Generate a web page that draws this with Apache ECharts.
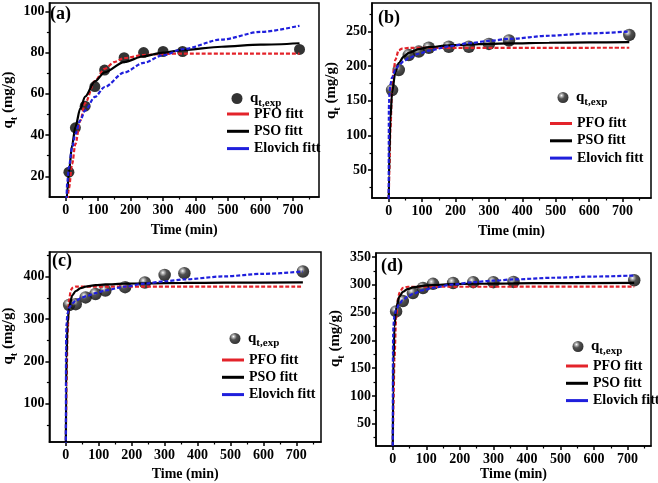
<!DOCTYPE html>
<html><head><meta charset="utf-8">
<script src="https://cdn.jsdelivr.net/npm/echarts@6/dist/echarts.min.js"></script>
<style>html,body{margin:0;padding:0;background:#fff}#c{width:658px;height:483px}</style>
</head><body><div id="c"></div><script>
// ---------- data ----------
const timeExp = [10, 30, 60, 90, 120, 180, 240, 300, 360, 720];
const expA = [22, 43.5, 54, 63.5, 71.5, 77.5, 80, 80.5, 80.5, 81.5];
const expB = [165.5, 194.5, 216, 221, 226.5, 228, 228, 232, 237, 245];
const expC = [333, 335, 351, 359, 367, 375, 386, 404, 408, 412];
const expD = [252, 270.5, 285, 294, 301.5, 303, 304.5, 304.5, 305, 308];

const pfoA_t = [0, 5, 10, 20, 30, 45, 60, 90, 120, 150, 180, 240, 300, 360, 720];
const pfoA_q = [0, 7.5, 14.2, 26, 35.6, 46.9, 55.5, 66.2, 72.1, 75.4, 77.3, 78.8, 79.3, 79.5, 79.5];
const psoA_t = [0, 5, 10, 20, 30, 45, 60, 90, 120, 180, 240, 300, 360, 480, 600, 720];
const psoA_q = [0, 12.6, 22, 35.2, 44, 52.8, 58.7, 66, 70.4, 75.4, 78.2, 80, 81.2, 82.8, 83.8, 84.5];
const eloA_t = [0, 1, 2, 5, 10, 20, 30, 45, 60, 90, 120, 180, 240, 300, 360, 480, 600, 720];
const eloA_q = [0, 4.8, 8.6, 17, 24.5, 34, 40.5, 47.2, 52, 58.5, 63.3, 70.3, 75, 78.7, 81.6, 86.3, 90, 93];

const pfoB_t = [0, 2, 5, 10, 15, 20, 30, 40, 60, 720];
const pfoB_q = [0, 51, 108.3, 164.4, 194, 209.6, 222.9, 225.3, 226.4, 226.5];
const psoB_t = [0, 1, 2, 5, 10, 20, 30, 45, 60, 90, 120, 180, 240, 300, 360, 480, 600, 720];
const psoB_q = [0, 42, 71, 123.6, 161.5, 191.6, 204.5, 213.7, 219, 224.5, 227.3, 230, 231.1, 232.2, 232.8, 233.7, 234.2, 234.5];
const eloB_t = [0, 0.5, 1, 2, 5, 10, 20, 30, 45, 60, 90, 120, 180, 240, 300, 360, 480, 600, 720];
const eloB_q = [0, 138, 148.5, 159, 173.3, 184, 194.7, 201, 207.2, 211.6, 217.9, 222.3, 228.5, 233, 236.4, 239.3, 243.8, 247.2, 250];

const pfoC_t = [0, 1, 2, 5, 10, 15, 20, 30, 720];
const pfoC_q = [0, 81.8, 146, 264, 345.6, 367.9, 373.7, 376.3, 376.5];
const psoC_t = [0, 1, 2, 5, 10, 20, 30, 45, 60, 90, 120, 180, 240, 360, 480, 720];
const psoC_q = [0, 142, 207.8, 287.8, 330, 356.3, 366, 372.7, 376.2, 379.7, 381.5, 383.3, 384.2, 385.2, 385.6, 386.2];
const eloC_t = [0, 0.5, 1, 2, 5, 10, 20, 30, 45, 60, 90, 120, 180, 240, 300, 360, 480, 600, 720];
const eloC_q = [0, 230, 262, 290, 313, 327, 337, 343, 349, 353.5, 361, 367.5, 376.5, 383.5, 389, 393.5, 400.5, 406.5, 412];

const pfoD_t = [0, 1, 2, 5, 10, 15, 20, 30, 45, 720];
const pfoD_q = [0, 45.4, 84, 167, 240, 271.9, 285.6, 294.4, 296.3, 296.5];
const psoD_t = [0, 1, 2, 5, 10, 20, 30, 45, 60, 90, 120, 180, 240, 360, 480, 720];
const psoD_q = [0, 109, 160.6, 224, 258, 279, 287, 292.4, 295.2, 297.9, 299.5, 301, 301.7, 302.5, 302.9, 303.2];
const eloD_t = [0, 0.5, 1, 2, 5, 10, 20, 30, 45, 60, 90, 120, 180, 240, 300, 360, 480, 600, 720];
const eloD_q = [0, 175, 205, 228, 244, 255, 266, 272.5, 279, 283.5, 290, 294.5, 300.5, 304.5, 307.3, 309.5, 312.5, 314.7, 316.5];

const xTicks = [0, 100, 200, 300, 400, 500, 600, 700];
const xMinor = [50, 150, 250, 350, 450, 550, 650, 750];
const yTicksA = [20, 40, 60, 80, 100], yMinorA = [30, 50, 70, 90];
const yTicksB = [50, 100, 150, 200, 250], yMinorB = [25, 75, 125, 175, 225, 275];
const yTicksC = [100, 200, 300, 400], yMinorC = [50, 150, 250, 350, 450];
const yTicksD = [50, 100, 150, 200, 250, 300, 350], yMinorD = [25, 75, 125, 175, 225, 275, 325];

const panelLabels = ['(a)', '(b)', '(c)', '(d)'];
const xName = 'Time (min)';
const legendNames = {exp: 't,exp', pfo: 'PFO fitt', pso: 'PSO fitt', elo: 'Elovich fitt'};

// ---------- styling / layout ----------
const FONT = '"Liberation Serif","Times New Roman",serif';
const RED = '#e3232a', BLUE = '#1f1fdc', BLACK = '#000';
const sphere = {type: 'radial', x: 0.36, y: 0.32, r: 0.68, colorStops: [
  {offset: 0, color: '#ffffff'}, {offset: 0.16, color: '#a8a8a8'}, {offset: 0.45, color: '#262626'}, {offset: 1, color: '#000'}]};
const LINE_ICON = 'path://M0,0M0,5.5H22V8.5H0ZM22,14';

const pair = (t, q) => t.map((v, i) => [v, q[i]]);

const panels = [
  {g: [45, 3, 274, 194], x: [-50, 780], y: [10, 104], yt: yTicksA, ym: yMinorA, exp: expA, sph: false,
   pfo: pair(pfoA_t, pfoA_q), pso: pair(psoA_t, psoA_q), elo: pair(eloA_t, eloA_q),
   lab: [50, 5], xGap: 26, yGap: 24, yPad: 0, legE: [231.5, 91], legF: [227, 107]},
  {g: [372, 3, 279, 195], x: [-50, 785], y: [10, 291], yt: yTicksB, ym: yMinorB, exp: expB, sph: true,
   pfo: pair(pfoB_t, pfoB_q), pso: pair(psoB_t, psoB_q), elo: pair(eloB_t, eloB_q),
   lab: [378, 9], xGap: 26, yGap: 25, yPad: 20, legE: [557.5, 90], legF: [550, 116.5]},
  {g: [48, 252, 273, 190], x: [-50, 775], y: [10, 458], yt: yTicksC, ym: yMinorC, exp: expC, sph: true,
   pfo: pair(pfoC_t, pfoC_q), pso: pair(psoC_t, psoC_q), elo: pair(eloC_t, eloC_q),
   lab: [52, 252], xGap: 25, yGap: 27, yPad: 22, legE: [229.5, 331], legF: [222, 353]},
  {g: [376, 253, 275, 193], x: [-50, 770], y: [10, 357], yt: yTicksD, ym: yMinorD, exp: expD, sph: true,
   pfo: pair(pfoD_t, pfoD_q), pso: pair(psoD_t, psoD_q), elo: pair(eloD_t, eloD_q),
   lab: [381, 257], xGap: 21, yGap: 25, yPad: 22, legE: [572.5, 339], legF: [566, 359]}
];

const txt = {fontFamily: FONT, fontWeight: 'bold', color: '#000'};
const option = {animation: false, backgroundColor: '#fff', title: [], legend: [], grid: [], xAxis: [], yAxis: [], series: []};

panels.forEach((p, i) => {
  const k = 'ABCD'[i];
  option.grid.push({left: p.g[0], top: p.g[1], width: p.g[2], height: p.g[3], show: true, borderColor: '#000', borderWidth: 1.5, backgroundColor: 'transparent'});
  option.title.push({text: panelLabels[i], left: p.lab[0], top: p.lab[1], padding: 0, textStyle: Object.assign({fontSize: 18}, txt)});
  const xi = option.xAxis.length, yi = option.yAxis.length;
  option.xAxis.push({type: 'value', gridIndex: i, position: 'bottom', min: p.x[0], max: p.x[1],
    name: xName, nameLocation: 'middle', nameGap: p.xGap, nameTextStyle: Object.assign({fontSize: 14}, txt),
    axisLine: {onZero: false, lineStyle: {color: '#000', width: 1.5}},
    axisTick: {customValues: xTicks, length: 4, lineStyle: {color: '#000', width: 1.5}},
    axisLabel: Object.assign({customValues: xTicks, margin: 6, fontSize: 14}, txt),
    splitLine: {show: false}});
  option.xAxis.push({type: 'value', gridIndex: i, position: 'bottom', min: p.x[0], max: p.x[1],
    axisLine: {show: false}, axisTick: {customValues: xMinor, length: 2.5, lineStyle: {color: '#000', width: 1.2}},
    axisLabel: {show: false}, splitLine: {show: false}});
  option.yAxis.push({type: 'value', gridIndex: i, position: 'left', min: p.y[0], max: p.y[1],
    name: '{q|q}{s|t}{q| (mg/g)}', nameLocation: 'middle', nameGap: p.yGap,
    nameTextStyle: {padding: [0, 0, 0, p.yPad], rich: {
      q: Object.assign({fontSize: 15, lineHeight: 22}, txt),
      s: Object.assign({fontSize: 10, lineHeight: 22, verticalAlign: 'bottom'}, txt)}},
    axisLine: {onZero: false, lineStyle: {color: '#000', width: 1.5}},
    axisTick: {customValues: p.yt, length: 4, lineStyle: {color: '#000', width: 1.5}},
    axisLabel: Object.assign({customValues: p.yt, margin: 5, fontSize: 14}, txt),
    splitLine: {show: false}});
  option.yAxis.push({type: 'value', gridIndex: i, position: 'left', min: p.y[0], max: p.y[1],
    axisLine: {show: false, onZero: false}, axisTick: {customValues: p.ym, length: 2.5, lineStyle: {color: '#000', width: 1.2}},
    axisLabel: {show: false}, splitLine: {show: false}});

  const ax = {xAxisIndex: xi, yAxisIndex: yi};
  option.series.push(Object.assign({type: 'scatter', name: 'exp' + k, data: pair(timeExp, p.exp),
    symbol: 'circle', symbolSize: p.sph ? 12.5 : 11, z: 2,
    itemStyle: {color: p.sph ? sphere : '#000'}}, ax));
  const line = (name, data, color, dashed) => Object.assign({type: 'line', name: name + k, data: data,
    symbol: 'none', showSymbol: false, smooth: 0.3, smoothMonotone: 'x', z: 3,
    lineStyle: {color: color, width: 2.2, type: dashed ? [4, 2] : 'solid'}, itemStyle: {color: color}}, ax);
  option.series.push(line('pfo', p.pfo, RED, true));
  option.series.push(line('pso', p.pso, BLACK, false));
  option.series.push(line('elo', p.elo, BLUE, true));

  option.legend.push({left: p.legE[0], top: p.legE[1], orient: 'vertical', padding: 0, itemWidth: 16, itemHeight: 11,
    selectedMode: false, data: [{name: 'exp' + k, icon: 'circle'}],
    formatter: () => '{q|q}{s|' + legendNames.exp + '}',
    textStyle: {rich: {q: Object.assign({fontSize: 15, lineHeight: 20}, txt), s: Object.assign({fontSize: 11, lineHeight: 20, verticalAlign: 'bottom'}, txt)}}});
  option.legend.push({left: p.legF[0], top: p.legF[1], orient: 'vertical', padding: 0, itemWidth: 22, itemHeight: 14, itemGap: 3.3,
    selectedMode: false,
    data: [['pfo', RED], ['pso', BLACK], ['elo', BLUE]].map(n => ({name: n[0] + k, icon: LINE_ICON, itemStyle: {color: n[1], borderWidth: 0}})),
    formatter: n => legendNames[n.slice(0, 3)],
    textStyle: Object.assign({fontSize: 14, lineHeight: 14}, txt)});
});

const chart = echarts.init(document.getElementById('c'), null, {renderer: 'canvas'});
chart.setOption(option);
</script></body></html>
